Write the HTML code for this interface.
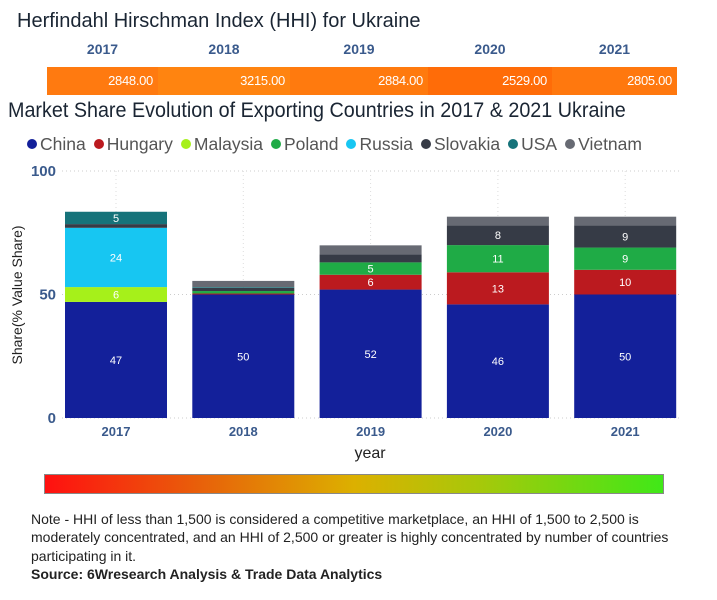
<!DOCTYPE html>
<html><head><meta charset="utf-8"><style>
body{margin:0;width:717px;height:600px;background:#fff;font-family:"Liberation Sans Narrow","Liberation Sans",sans-serif;position:relative;overflow:hidden}
.a{position:absolute;white-space:nowrap}
</style></head><body>
<div class="a" style="left:17px;top:10px;font-size:20px;color:#1a2533">Herfindahl Hirschman Index (HHI) for Ukraine</div>
<div id="hhi"></div>
<div class="a" style="left:8px;top:99px;font-size:21px;color:#1a2533;transform:scaleX(0.94);transform-origin:0 0">Market Share Evolution of Exporting Countries in 2017 &amp; 2021 Ukraine</div>
<div id="legend" class="a" style="left:27px;top:134px;font-size:17.5px;color:#555"></div>
<svg id="chart" class="a" style="left:0;top:160px" width="717" height="310"></svg>
<div class="a" style="left:44px;top:474px;width:618px;height:18px;border:1px solid #888;background:linear-gradient(90deg,#ff1010,#e8600a 25%,#dcb000 50%,#a8c80a 70%,#40e818)"></div>
<div class="a" style="left:31px;top:510px;font-size:14px;line-height:18.3px;color:#222;white-space:normal;width:660px">Note - HHI of less than 1,500 is considered a competitive marketplace, an HHI of 1,500 to 2,500 is moderately concentrated, and an HHI of 2,500 or greater is highly concentrated by number of countries participating in it.<br><b>Source: 6Wresearch Analysis &amp; Trade Data Analytics</b></div>
<script>
const years=["2017","2018","2019","2020","2021"];
const hhiValues=[2848,3215,2884,2529,2805];
const countries=["China","Hungary","Malaysia","Poland","Russia","Slovakia","USA","Vietnam"];
const colors=["#13209a","#bb1a1f","#a6f01a","#1fab46","#17c6f2","#363b46","#16737a","#676a73"];
const china=[47,50,52,46,50];
const hungary=[0,0.4,6,13,10];
const malaysia=[6,0,0,0,0];
const poland=[0,1,5,11,9];
const russia=[24,0,0,0,0];
const slovakia=[1.5,1.3,3.3,8,9];
const usa=[5,0.3,0,0,0];
const vietnam=[0,2.5,3.6,3.5,3.5];
const series=[china,hungary,malaysia,poland,russia,slovakia,usa,vietnam];
const yTicks=[0,50,100];
const NS="http://www.w3.org/2000/svg";
const hhi=document.getElementById('hhi');
const segX=[47,158,290,428,552,677];
const segCol=["#ff7a10","#ff8410","#ff7a0e","#ff6c08","#ff780e"];
years.forEach((y,i)=>{
 const l=document.createElement('div');l.className='a';
 
 
 l.style.cssText=`left:${segX[i]}px;width:${segX[i+1]-segX[i]}px;top:41px;text-align:center;font-weight:bold;font-size:14px;color:#3a5a8c;font-family:"Liberation Sans",sans-serif`;
 l.textContent=y;hhi.appendChild(l);
 const s=document.createElement('div');s.className='a';
 
 
 s.style.cssText=`left:${segX[i]}px;width:${segX[i+1]-segX[i]-5}px;padding-right:5px;top:67px;height:28px;line-height:28px;text-align:right;background:${segCol[i]};color:#fff;font-size:13px;letter-spacing:-0.3px`;
 s.textContent=hhiValues[i].toFixed(2);hhi.appendChild(s);
});
const lg=document.getElementById('legend');
countries.forEach((c,i)=>{
 const e=document.createElement('span');
 
 
 e.style.marginRight='8px';
 e.innerHTML=`<span style="display:inline-block;width:10px;height:10px;border-radius:50%;background:${colors[i]};margin-right:3px;vertical-align:1px"></span>${c}`;
 lg.appendChild(e);
});
const svg=document.getElementById('chart');
const y0=258,y100=11;
const yS=v=>y0-(v/100)*(y0-y100);
const bw=102,bx=i=>65+i*127.3;
function mk(t,a){const e=document.createElementNS(NS,t);for(const k in a)e.setAttribute(k,a[k]);svg.appendChild(e);return e;}
yTicks.forEach(t=>{
 const g=mk('line',{x1:62,x2:680,y1:yS(t),y2:yS(t),stroke:'#ccc','stroke-dasharray':'1,3'});
 
 
 const l=mk('text',{x:56,y:yS(t)+5,'text-anchor':'end','font-size':15,'font-weight':'bold',fill:'#3a5a8c','font-family':'Liberation Sans'});
 
 
 l.textContent=t;
});
years.forEach((y,i)=>{
 const g=mk('line',{x1:bx(i)+bw/2,x2:bx(i)+bw/2,y1:y100,y2:y0,stroke:'#ddd','stroke-dasharray':'1,3'});
 
 
 let acc=0;
 series.forEach((s,k)=>{
  const v=s[i];if(!v)return;
  const r=mk('rect',{x:bx(i),y:yS(acc+v),width:bw,height:yS(acc)-yS(acc+v),fill:colors[k]});
  
  
  if(v>=4.5){const t=mk('text',{x:bx(i)+bw/2,y:(yS(acc)+yS(acc+v))/2+4,'text-anchor':'middle','font-size':11,fill:'#fff','font-family':'Liberation Sans'});
   
   
   t.textContent=Math.round(v);}
  acc+=v;
 });
 const xl=mk('text',{x:bx(i)+bw/2,y:276,'text-anchor':'middle','font-size':13,'font-weight':'bold',fill:'#3a5a8c','font-family':'Liberation Sans'});
 
 
 xl.textContent=y;
});
const xt=mk('text',{x:370,y:298,'text-anchor':'middle','font-size':16,fill:'#222','font-family':'Liberation Sans'});


xt.textContent='year';
const yt=mk('text',{x:0,y:0,transform:'translate(22,135) rotate(-90)','text-anchor':'middle','font-size':14,fill:'#222','font-family':'Liberation Sans'});


yt.textContent='Share(% Value Share)';
</script>
</body></html>
